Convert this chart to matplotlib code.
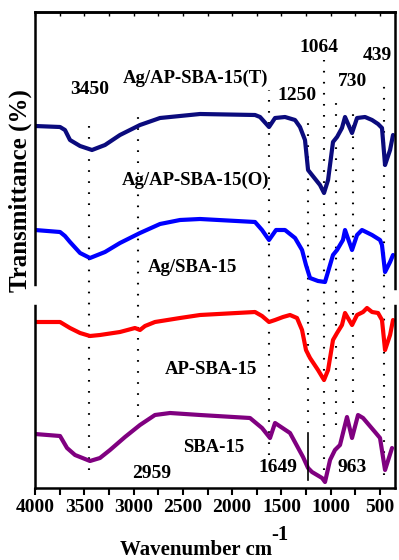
import numpy as np
import matplotlib
matplotlib.use('Agg')
import matplotlib.pyplot as plt

# FTIR spectra (wavenumber, transmittance arb. units)
navy_wn = [4000, 3746, 3696, 3645, 3543, 3422, 3290, 3138, 2935, 2732, 2326, 1768, 1717, 1626, 1565,
           1464, 1362, 1312, 1261, 1230, 1190, 1109, 1068, 1027, 977, 936, 886, 855, 784, 733,
           652, 581, 520, 480, 449, 398, 368]
navy_t = [362, 361, 358, 348, 342, 338, 343, 353, 363, 370, 374, 373, 371, 361, 370,
          371, 368, 361, 348, 318, 313, 303, 295, 308, 346, 351, 360, 371, 355, 370,
          371, 368, 364, 360, 323, 338, 353]

blue_wn = [4000, 3746, 3696, 3645, 3543, 3442, 3290, 3138, 2935, 2732, 2529, 2326, 1768, 1697, 1626,
           1555, 1464, 1362, 1291, 1251, 1210, 1129, 1058, 977, 936, 876, 855, 784, 733, 683,
           581, 500, 480, 449, 398, 368]
blue_t = [258, 256, 252, 246, 235, 230, 236, 245, 255, 264, 268, 269, 266, 258, 248,
          258, 258, 250, 238, 223, 210, 207, 206, 233, 238, 248, 258, 238, 253, 258,
          253, 248, 243, 216, 226, 233]

red_wn = [4000, 3746, 3645, 3543, 3442, 3341, 3138, 2986, 2935, 2884, 2783, 2529, 2326, 1768, 1697,
          1626, 1565, 1484, 1413, 1342, 1291, 1251, 1210, 1129, 1068, 1027, 977, 936, 886, 855,
          784, 733, 672, 632, 581, 520, 480, 449, 398, 368]
red_t = [166, 166, 160, 155, 152, 153, 156, 160, 158, 162, 166, 170, 173, 176, 172,
         166, 168, 171, 173, 170, 158, 138, 130, 118, 108, 118, 148, 155, 163, 175,
         163, 173, 176, 180, 176, 175, 168, 138, 153, 168]

purple_wn = [4000, 3746, 3675, 3594, 3442, 3341, 3239, 3087, 2935, 2783, 2630, 2326, 1819, 1697, 1616,
             1565, 1413, 1281, 1230, 1190, 1088, 1058, 1007, 957, 906, 835, 784, 723, 672, 551,
             500, 449, 378]
purple_t = [54, 52, 40, 33, 27, 30, 38, 51, 63, 73, 75, 73, 70, 60, 50,
            65, 55, 31, 20, 16, 10, 6, 28, 38, 43, 71, 50, 73, 70, 56,
            50, 18, 40]

# peak markers: position, label, dotted range (bottom, top)
peak_pos = [3452, 2955, 1626, 1230, 1068, 946, 774, 459]
peak_lo = [18, 60, 33, 65, 18, 63, 85, 13]
peak_hi = [371, 380, 398, 371, 428, 393, 380, 408]

peak_text = ['3450', '1250', '1064', '730', '439', '2959', '1649', '963']
peak_text_x = [3442, 1342, 1119, 784, 530, 2813, 1535, 784]
peak_text_y = [399, 393, 441, 407, 433, 15, 20, 20]

names = ['Ag/AP-SBA-15(T)', 'Ag/AP-SBA-15(O)', 'Ag/SBA-15', 'AP-SBA-15', 'SBA-15']
names_x = [2367, 2367, 2407, 2214, 2184]
names_y = [410, 308, 220, 118, 41]

plt.rcParams['font.family'] = ['Liberation Serif', 'DejaVu Serif']
plt.rcParams['font.weight'] = 'bold'

fig = plt.figure(figsize=(3.99, 5.60), dpi=100)
ax = fig.add_axes([35/399, 72/560, 360/399, 476/560])

lw = 3.0
ax.plot(navy_wn, navy_t, color='#0b0b7d', lw=lw, solid_joinstyle='round', solid_capstyle='round')
ax.plot(blue_wn, blue_t, color='#0000ff', lw=lw, solid_joinstyle='round', solid_capstyle='round')
ax.plot(red_wn, red_t, color='#ff0000', lw=lw, solid_joinstyle='round', solid_capstyle='round')
ax.plot(purple_wn, purple_t, color='#800080', lw=lw, solid_joinstyle='round', solid_capstyle='round')

for p, lo, hi in zip(peak_pos, peak_lo, peak_hi):
    ax.plot([p, p], [lo, hi], color='black', lw=1.5, dashes=(0.8, 4.5), zorder=1)
# small solid marker at 1250 on the SBA-15 trace
ax.plot([1230, 1230], [8, 55], color='black', lw=1.2)

for t, x, y in zip(peak_text, peak_text_x, peak_text_y):
    ax.text(x, y, t, ha='center', va='center', fontsize=14, fontweight='bold')
for t, x, y in zip(names, names_x, names_y):
    ax.text(x, y, t, ha='center', va='center', fontsize=13.5, fontweight='bold')

ax.set_xlim(4000, 348)
ax.set_ylim(0, 476)
ax.set_yticks([])
ax.set_xticks(np.arange(4000, 499, -500))
ax.set_xticks(np.arange(4000, 349, -250), minor=True)
ax.tick_params(axis='x', which='both', direction='out', length=5, width=1.5,
               labelsize=14, pad=3)
for lab in ax.get_xticklabels():
    lab.set_fontweight('bold')

top = ax.secondary_xaxis('top')
top.set_xticks(np.arange(4000, 349, -250))
top.tick_params(axis='x', direction='in', length=3, width=1, labeltop=False)
top.spines['top'].set_linewidth(1.8)

for s in ax.spines.values():
    s.set_linewidth(1.8)

# break marks in the side axes
ax.plot([0, 0], [0.391, 0.418], color='white', lw=4, transform=ax.transAxes,
        clip_on=False, zorder=10)
ax.plot([1, 1], [0.391, 0.410], color='white', lw=4, transform=ax.transAxes,
        clip_on=False, zorder=10)

fig.text(20/399, 1 - 191/560, 'Transmittance (%)', rotation=90, ha='center', va='center',
         fontsize=18, fontweight='bold')
fig.text(196/399, 1 - 550/560, 'Wavenumber cm', ha='center', va='center',
         fontsize=15, fontweight='bold')
fig.text(280/399, 1 - 535/560, '-1', ha='center', va='center',
         fontsize=15, fontweight='bold')

fig.savefig('out.png', dpi=100)
